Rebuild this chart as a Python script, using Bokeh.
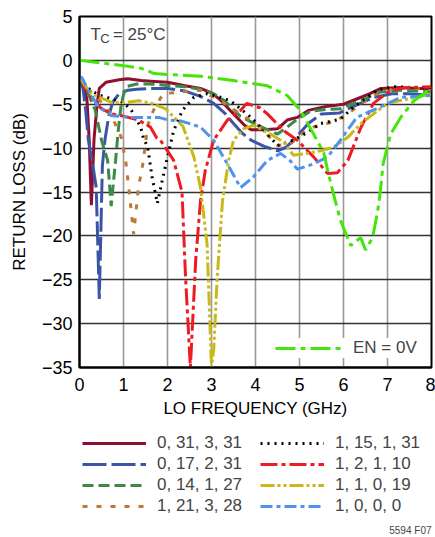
from bokeh.plotting import figure
from bokeh.models import (Range1d, FixedTicker, Legend, LegendItem, Label)
from bokeh.embed import file_html
from bokeh.resources import INLINE

FONT = "Liberation Sans Narrow, Arial Narrow, sans-serif"

# ---- data ----
X_TICKS = [0, 1, 2, 3, 4, 5, 6, 7, 8]
Y_TICKS = [5, 0, -5, -10, -15, -20, -25, -30, -35]
Y_TICK_LABELS = ["5", "0", "−5", "−10", "−15", "−20", "−25", "−30", "−35"]

names = ["0, 31, 3, 31", "0, 17, 2, 31", "0, 14, 1, 27", "1, 21, 3, 28",
         "1, 15, 1, 31", "1, 2, 1, 10", "1, 1, 0, 19", "1, 0, 0, 0"]

xA = [0, 0.1, 0.17, 0.22, 0.27, 0.33, 0.4, 0.45, 0.6, 0.9, 1.1, 1.4, 1.7, 2.0, 2.4, 2.75, 3.0, 3.2,
      3.5, 3.75, 3.9, 4.2, 4.5, 4.72, 4.95, 5.2, 5.55, 6.0, 6.3, 6.6, 6.85, 7.3, 7.7, 8.0]
yA = [-2, -2.8, -4.5, -9, -16.5, -9, -5, -3.2, -2.5, -2.2, -2.1, -2.3, -2.4, -2.5, -2.9, -3.2, -3.7, -4.5,
      -6.1, -7.4, -7.9, -7.9, -7.8, -6.8, -6.5, -5.7, -5.3, -5.0, -4.4, -3.8, -3.2, -3.1, -3.2, -3.2]

xB = [0, 0.08, 0.14, 0.2, 0.32, 0.38, 0.45, 0.52, 0.58, 0.66, 0.75, 0.9, 1.1, 1.3, 1.6, 2.0, 2.4, 2.75,
      3.05, 3.3, 3.5, 3.7, 3.9, 4.2, 4.5, 4.7, 4.95, 5.2, 5.5, 5.9, 6.2, 6.7, 7.1, 7.5, 8.0]
yB = [-2, -3.2, -5.7, -9, -12.5, -14.5, -27.2, -12, -9, -6.5, -4.8, -3.8, -3.4, -3.3, -3.2, -3.2, -3.5,
      -4.1, -4.9, -6.0, -7.2, -8.3, -9.1, -9.8, -10.3, -9.9, -8.6, -7.2, -6.1, -6.0, -5.3, -4.2, -3.8,
      -3.8, -4.0]

xC = [0, 0.1, 0.2, 0.36, 0.5, 0.64, 0.72, 0.82, 0.88, 0.95, 1.05, 1.3, 1.6, 2.0, 2.4, 2.75, 3.05, 3.3,
      3.66, 4.05, 4.5, 4.72, 4.95, 5.25, 5.6, 5.93, 6.4, 6.84, 7.3, 7.7, 8.0]
yC = [-2, -2.8, -3.8, -5.7, -9.1, -11.4, -16.6, -11.4, -8, -4.9, -3.0, -2.7, -2.7, -2.85, -3.0, -3.3,
      -3.8, -4.6, -6.4, -7.4, -8.4, -7.6, -6.7, -5.8, -5.6, -5.5, -4.6, -3.6, -3.4, -3.5, -3.6]

xD = [0, 0.15, 0.27, 0.5, 0.7, 0.95, 1.05, 1.12, 1.23, 1.34, 1.45, 1.55, 1.68, 1.9, 2.3, 2.75, 3.2,
      3.66, 4.1, 4.5, 4.8, 5.1, 5.32, 5.77, 6.1, 6.4, 6.84, 7.3, 7.7, 8.0]
yD = [-2, -3.0, -3.6, -4.8, -6.0, -8.8, -11.5, -14.5, -19.8, -14.5, -11.5, -7.4, -5.7, -3.8, -3.6,
      -3.4, -4.6, -6.1, -7.6, -9.7, -9.5, -8.2, -7.6, -7.0, -6.1, -4.9, -3.6, -3.1, -3.2, -3.3]

xE = [0, 0.15, 0.32, 0.48, 0.61, 1.0, 1.18, 1.27, 1.39, 1.45, 1.55, 1.65, 1.77, 1.88, 2.0, 2.14, 2.34,
      2.6, 2.9, 3.2, 3.43, 3.9, 4.27, 4.5, 4.86, 5.18, 5.48, 5.93, 6.23, 6.77, 7.14, 7.6, 8.0]
yE = [-2, -3.0, -3.6, -4.0, -4.2, -4.8, -5.7, -6.5, -7.6, -8.8, -9.9, -13.3, -16.3, -13.7, -11, -8,
      -5.7, -4.2, -3.8, -4.2, -4.6, -6.5, -8.4, -9.7, -9.1, -8.2, -7.2, -6.7, -5.3, -3.4, -3.0, -3.1,
      -3.1]

xF = [0, 0.15, 0.32, 0.5, 0.73, 0.95, 1.34, 1.61, 1.75, 1.84, 2.14, 2.33, 2.41, 2.52, 2.64, 2.75, 2.86,
      3.05, 3.36, 3.66, 3.8, 4.1, 4.27, 4.64, 4.95, 5.32, 5.64, 5.86, 6.1, 6.4, 6.68, 7.07, 7.45, 8.0]
yF = [-2, -3.3, -4.6, -5.5, -6.1, -6.3, -6.8, -7.6, -8.8, -9.1, -11.4, -15, -24.7, -35, -22.8, -16,
      -12.5, -9.1, -6.8, -5.7, -4.9, -5.4, -6.1, -8, -9.1, -11, -12.9, -12.8, -11.4, -7.6, -4.9, -3.4,
      -3.1, -3.0]

xG = [0, 0.27, 0.5, 0.73, 1.05, 1.34, 1.64, 1.95, 2.07, 2.35, 2.6, 2.75, 2.9, 3.0, 3.05, 3.13, 3.25,
      3.39, 3.5, 3.73, 3.95, 4.27, 4.64, 4.86, 5.18, 5.48, 5.77, 6.09, 6.4, 6.68, 7.0, 7.45, 8.0]
yG = [-2, -3.8, -4.3, -4.8, -4.8, -4.6, -4.9, -5.5, -6.1, -7.5, -11, -14.5, -21, -35, -33, -24.7, -16,
      -11.4, -9.1, -7.8, -7.4, -8.2, -9.3, -10.8, -10.6, -10.3, -9.9, -8.8, -7.2, -6.1, -4.9, -4.4, -3.8]

xH = [0, 0.05, 0.2, 0.43, 0.73, 1.18, 1.8, 2.02, 2.3, 2.75, 3.05, 3.36, 3.66, 3.95, 4.27, 4.57, 4.8,
      4.95, 5.32, 5.64, 5.93, 6.3, 6.84, 7.3, 8.0]
yH = [-2, -1.9, -3.4, -5.3, -6.3, -6.5, -6.5, -6.8, -6.9, -7.6, -9.1, -11.8, -14.5, -13.3, -11.4,
      -10.6, -11.5, -12.4, -11.8, -11, -9.1, -6.5, -5.3, -4.2, -4.0]

xI = [0, 0.5, 1.0, 1.4, 1.7, 2.0, 2.75, 3.5, 4.27, 4.72, 5.02, 5.32, 5.55, 5.64, 5.77, 5.93, 6.16,
      6.39, 6.5, 6.66, 6.77, 6.84, 6.9, 7.07, 7.3, 7.6, 8.0]
yI = [0, -0.3, -0.6, -0.9, -1.5, -1.6, -1.8, -2.3, -2.9, -4.0, -5.7, -8.4, -10.5, -12.5, -15.2, -18.2,
      -21.1, -20.2, -21.6, -20.2, -17.4, -14.8, -11.8, -8.4, -6.5, -4.6, -3.2]

series_x = [xA, xB, xC, xD, xE, xF, xG, xH]
series_y = [yA, yB, yC, yD, yE, yF, yG, yH]
colors = ["#8E1030", "#3A55A8", "#3A8A48", "#BC7A3A", "#000000", "#EE1A24", "#C8B818", "#4D94EE"]
dashes = ["solid", "24 5", "11 5", "5 9", "2 5", "17 4 4 4", "14 3 3 3 3 3", "12 4 4 4"]
widths = [3, 3, 3, 3, 3, 3, 3, 3]

p = figure(width=435, height=428, x_range=Range1d(0, 8), y_range=Range1d(-35, 5),
           output_backend="svg", toolbar_location=None,
           min_border_left=79, min_border_right=4, min_border_top=16, min_border_bottom=61)

p.xaxis.ticker = FixedTicker(ticks=X_TICKS)
p.yaxis.ticker = FixedTicker(ticks=Y_TICKS)
p.yaxis.major_label_overrides = {t: s for t, s in zip(Y_TICKS, Y_TICK_LABELS)}

for ax in (p.xaxis[0], p.yaxis[0]):
    ax.major_tick_out = 0
    ax.major_tick_in = 0
    ax.minor_tick_out = 0
    ax.minor_tick_in = 0
    ax.axis_line_color = "black"
    ax.axis_line_width = 2
    ax.major_label_text_font = FONT
    ax.major_label_text_font_size = "18px"
    ax.major_label_text_color = "black"
    ax.axis_label_text_font = FONT
    ax.axis_label_text_font_size = "17px"
    ax.axis_label_text_font_style = "normal"
    ax.axis_label_text_color = "black"

p.xaxis.axis_label = "LO FREQUENCY (GHz)"
p.yaxis.axis_label = "RETURN LOSS (dB)"
p.xaxis.major_label_standoff = 10
p.yaxis.major_label_standoff = 7
p.xaxis.axis_label_standoff = 5
p.yaxis.axis_label_standoff = 10

p.xgrid.grid_line_color = "#999999"
p.xgrid.grid_line_width = 1.6
p.ygrid.grid_line_color = "#333333"
p.ygrid.grid_line_width = 1.3
p.outline_line_color = "black"
p.outline_line_width = 2
p.outline_line_alpha = 1

for xs, ys, c, d, w in zip(series_x, series_y, colors, dashes, widths):
    p.line(xs, ys, line_color=c, line_dash=d, line_width=w)

rI = p.line(xI, yI, line_color="#44E60A", line_dash="20 5 5 5", line_width=3)

# legend inside (EN = 0V)
leg_in = Legend(items=[LegendItem(label="EN = 0V", renderers=[rI])], location=(196, 9),
                glyph_width=67, glyph_height=20, label_standoff=11, padding=8, margin=0,
                label_text_font=FONT, label_text_font_size="17px",
                background_fill_color="white", background_fill_alpha=1,
                border_line_color=None)
p.add_layout(leg_in)

# T_C annotation
p.add_layout(Label(x=0.25, y=2.9, text="T", text_font=FONT, text_font_size="17px",
                   text_baseline="alphabetic"))
p.add_layout(Label(x=0.47, y=2.45, text="C", text_font=FONT, text_font_size="13px",
                   text_baseline="alphabetic"))
p.add_layout(Label(x=0.76, y=2.9, text="= 25°C", text_font=FONT, text_font_size="17px",
                   text_baseline="alphabetic"))

# ---- key panel below the chart (series drawn off-view; only legend keys show) ----
q = figure(width=435, height=109, x_range=Range1d(100, 101), y_range=Range1d(100, 101),
           output_backend="svg", toolbar_location=None,
           x_axis_location=None, y_axis_location=None,
           min_border_left=0, min_border_right=0, min_border_top=0, min_border_bottom=0)
q.grid.visible = False
q.outline_line_color = None
q.background_fill_color = "white"

key_renderers = []
for xs, ys, c, d, w in zip(series_x, series_y, colors, dashes, widths):
    key_renderers.append(q.line(xs, ys, line_color=c, line_dash=d, line_width=w))

common = dict(orientation="vertical", glyph_width=64, glyph_height=20, label_standoff=11,
              spacing=1, label_height=20, padding=0, margin=0,
              label_text_font=FONT, label_text_font_size="17px",
              background_fill_alpha=0, border_line_color=None)
leg1 = Legend(items=[LegendItem(label=n, renderers=[r])
                     for n, r in zip(names[:4], key_renderers[:4])],
              location=(82, 21), **common)
leg2 = Legend(items=[LegendItem(label=n, renderers=[r])
                     for n, r in zip(names[4:], key_renderers[4:])],
              location=(260, 21), **common)
q.add_layout(leg1)
q.add_layout(leg2)

q.add_layout(Label(x=100 + 431 / 435, y=100 + 2 / 109, text="5594 F07",
                   text_font=FONT, text_font_size="10px",
                   text_align="right", text_baseline="bottom"))

open("out.html", "w").write(file_html([p, q], INLINE))
